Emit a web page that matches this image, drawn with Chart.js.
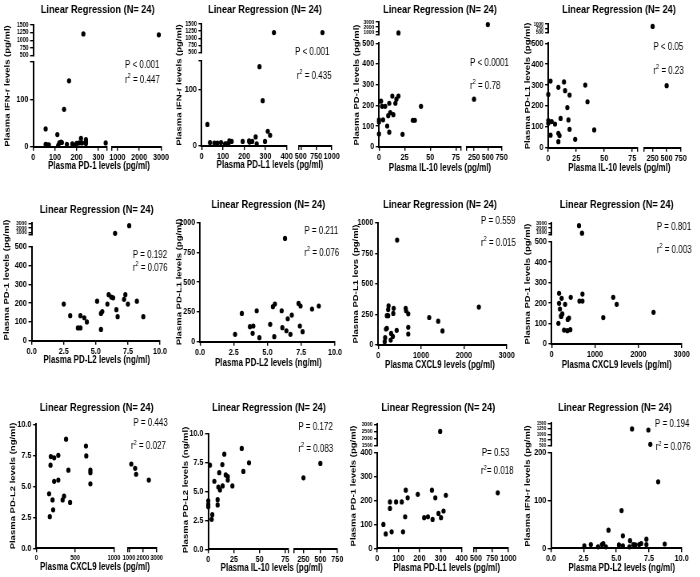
<!DOCTYPE html>
<html><head><meta charset="utf-8">
<script src="https://cdn.jsdelivr.net/npm/chart.js@4/dist/chart.umd.min.js"></script>
<style>
html,body{margin:0;padding:0;background:#fff;width:700px;height:577px;overflow:hidden;position:relative}
</style></head><body>
<script>
// ---------------- DATA ----------------
const p1x = [231, 2900, 165, 142, 57, 111, 57, 63, 72, 115, 120, 128, 132, 155, 190, 200, 212, 220, 225, 243, 243, 243, 334, 180];
const p1y = [1210, 1180, 141, 80, 38, 26, 5, 4, 4, 3, 8, 10, 9, 5, 3, 7, 8, 18, 8, 15, 10, 7, 8, 6];
const p2x = [340, 850, 272, 287, 27, 311, 322, 254, 298, 259, 39, 63, 74, 91, 110, 118, 130, 141, 193, 223, 238, 125, 225, 60];
const p2y = [1200, 1200, 140, 80, 38, 26, 19, 16, 8, 4, 6, 4, 5, 6, 4, 4, 9, 8, 8, 9, 8, 3, 7, 5];
const p3x = [19, 500, 250, 0, 0, 0, 2, 3, 4, 6, 8, 9, 10, 10, 11, 13, 14, 16, 17, 19, 23, 33, 35, 41];
const p3y = [850, 2500, 230, 62, 120, 130, 220, 195, 130, 195, 100, 150, 210, 70, 165, 245, 155, 210, 230, 245, 60, 128, 128, 195];
const p4x = [250, 500, 2, 0, 3, 0, 6, 9, 9, 10, 9, 11, 14, 15, 18, 17, 19, 19, 24, 33, 35, 41, 0, 2];
const p4y = [860, 297, 319, 255, 125, 117, 113, 289, 69, 58, 29, 140, 315, 273, 133, 192, 252, 88, 40, 300, 220, 85, 130, 60];
const p5x = [6.5, 7.6, 2.5, 3.0, 3.6, 3.8, 3.8, 4.1, 4.3, 5.1, 5.4, 5.4, 5.5, 5.9, 6.0, 6.2, 6.35, 6.6, 6.7, 7.2, 7.3, 7.5, 8.2, 8.7];
const p5y = [850, 2500, 195, 133, 68, 68, 133, 122, 100, 210, 145, 60, 155, 195, 245, 232, 228, 165, 128, 220, 245, 195, 210, 128];
const p6x = [6.3, 2.6, 3.1, 3.7, 3.95, 3.9, 4.2, 4.4, 5.2, 5.4, 5.55, 5.5, 6.05, 6.1, 6.4, 6.5, 6.8, 6.7, 7.3, 7.45, 7.4, 7.6, 8.3, 8.8];
const p6y = [868, 62, 238, 126, 132, 70, 260, 34, 146, 294, 316, 42, 260, 118, 92, 193, 224, 62, 322, 300, 132, 84, 275, 300];
const p7x = [440, 150, 160, 180, 200, 230, 230, 240, 290, 300, 340, 350, 360, 430, 640, 650, 700, 700, 700, 1190, 1400, 1500, 2350, 200];
const p7y = [858, 27, 60, 131, 136, 240, 290, 320, 40, 95, 70, 258, 300, 120, 300, 280, 255, 145, 90, 225, 195, 115, 310, 240];
const p8x = [630, 700, 170, 170, 155, 190, 230, 215, 245, 285, 310, 360, 370, 400, 440, 430, 640, 710, 710, 1190, 1420, 1500, 2350, 220];
const p8y = [2500, 900, 248, 199, 101, 171, 223, 137, 147, 68, 194, 65, 120, 127, 228, 70, 210, 210, 244, 129, 228, 194, 155, 135];
const p9x = [165, 174, 183, 187, 209, 217, 230, 230, 283, 283, 339, 357, 383, 413, 435, 639, 643, 696, 696, 696, 1160, 1440, 1510, 2430];
const p9y = [4.4, 2.55, 6.7, 7.4, 3.9, 3.1, 7.3, 5.4, 7.5, 5.5, 3.9, 4.2, 8.8, 6.3, 3.7, 8.25, 7.45, 6.3, 6.1, 5.2, 6.8, 6.45, 5.97, 5.5];
const p10x = [0, 0, 0, 1.6, 3.3, 3.9, 5.9, 9.1, 9.1, 9.8, 10.7, 11.4, 13.7, 14, 15.6, 17, 19, 19, 23.5, 32.6, 34.2, 39.7, 250, 500];
const p10y = [4.2, 3.9, 3.7, 7.3, 2.6, 3.0, 5.9, 4.3, 3.85, 5.4, 6.65, 5.15, 7.35, 5.5, 8.25, 6.45, 6.3, 6.0, 5.5, 8.75, 6.75, 7.5, 6.2, 7.45];
const p11x = [298, 837, 29, 40, 60, 60, 68, 89, 116, 122, 132, 135, 144, 192, 222, 240, 259, 262, 275, 290, 302, 314, 325];
const p11y = [2500, 232, 100, 60, 194, 167, 69, 194, 194, 69, 132, 243, 211, 226, 128, 132, 243, 121, 211, 146, 128, 156, 222];
const p12x = [6.2, 7.45, 7.6, 8.2, 5.4, 4.4, 5.5, 6.05, 7.3, 2.55, 3.05, 3.6, 3.9, 4.0, 4.2, 5.2, 5.5, 6.0, 6.3, 6.45, 6.75, 6.9, 7.3, 8.7];
const p12y = [1250, 1200, 560, 139, 79, 38, 26, 16, 19, 5, 8, 3, 8, 10, 3, 7, 5, 3, 8, 7, 8, 10, 8, 9];

// ---------------- TICK LABELS ----------------
const p1xA = ['0','100','200','300'], p1xB = ['1000','2000','3000'];
const p1yA = ['0','100'], p1yB = ['500','750','1000','1250','1500'];
const p2xA = ['0','100','200','300','400'], p2xB = ['500','750','1000'];
const p2yA = ['0','100'], p2yB = ['500','750','1000','1250','1500'];
const p3xA = ['0','25','50','75'], p3xB = ['250','500','750'];
const p3yA = ['0','100','200','300','400','500'], p3yB = ['1000','2000','3000'];
const p4xA = ['0','25','50','75'], p4xB = ['250','500','750'];
const p4yA = ['0','100','200','300','400','500'], p4yB = ['500','750','1000'];
const p5xA = ['0.0','2.5','5.0','7.5','10.0'];
const p5yA = ['0','100','200','300','400','500'], p5yB = ['1000','2000','3000'];
const p6xA = ['0.0','2.5','5.0','7.5','10.0'], p6yA = ['0','250','500','750','1000'];
const p7xA = ['0','1000','2000','3000'], p7yA = ['0','250','500','750','1000'];
const p8xA = ['0','1000','2000','3000'];
const p8yA = ['0','100','200','300','400','500'], p8yB = ['1000','2000','3000'];
const p9xA = ['0','500','1000'], p9xB = ['1000','2000','3000'];
const p9yA = ['0.0','2.5','5.0','7.5','10.0'];
const p10xA = ['0','25','50','75'], p10xB = ['250','500','750'];
const p10yA = ['0.0','2.5','5.0','7.5','10.0'];
const p11xA = ['0','100','200','300','400'], p11xB = ['500','750','1000'];
const p11yA = ['0','100','200','300','400'], p11yB = ['1500','2000','2500','3000'];
const p12xA = ['0.0','2.5','5.0','7.5','10.0'];
const p12yA = ['0','100','200'], p12yB = ['500','750','1000','1250','1500'];

// ---------------- LAYOUT (page pixels) ----------------
const FONT = '"Liberation Sans", Arial, Helvetica, sans-serif';
const SX = 0.8, YW = 28, XH = 16, PW = 183;
const TITLE = 'Linear Regression (N= 24)';
function seg(min, max, labels, a, b, fs) { return {min, max, labels, a, b, fs: fs || 9}; }

const panels = [
 {x0:0, y0:0, h:190, data:[p1x,p1y],
  xs:[seg(0,340,p1xA,33.3,107), seg(740,3000,p1xB,111.7,161)],
  ys:[seg(0,182,p1yA,146.7,61.7), seg(500,1500,p1yB,55.7,25,6.5)],
  tt:[97.7,10], xt:[99,166.7,'Plasma PD-1 levels (pg/ml)'], yt:[7.3,86,'Plasma IFN-r levels (pg/ml)'],
  st:['P < 0.001',' = 0.447',125,65.7,125,80]},
 {x0:175, y0:0, h:190, data:[p2x,p2y],
  xs:[seg(0,400,p2xA,201.7,286.7), seg(470,1000,p2xB,299,331.7)],
  ys:[seg(0,150,p2yA,146,61), seg(500,1500,p2yB,52.7,24,6.5)],
  tt:[265,10], xt:[270,165.7,'Plasma PD-L1 levels (pg/ml)'], yt:[179,85,'Plasma IFN-r levels (pg/ml)'],
  st:['P < 0.001',' = 0.435',295,52.3,296.7,76]},
 {x0:350, y0:0, h:190, data:[p3x,p3y],
  xs:[seg(0,80,p3xA,379,461), seg(117,750,p3xB,466.7,501.7)],
  ys:[seg(0,500,p3yA,146.7,43.3), seg(500,3000,p3yB,34.7,22,6)],
  tt:[440,10], xt:[440,168.3,'Plasma IL-10 levels (pg/ml)'], yt:[356.7,85,'Plasma PD-1 levels (pg/ml)'],
  st:['P < 0.0001',' = 0.78',470,63.3,470,86]},
 {x0:525, y0:0, h:190, data:[p4x,p4y],
  xs:[seg(0,80,p4xA,548.3,637.9), seg(101,750,p4xB,644.3,680.7)],
  ys:[seg(0,500,p4yA,147.7,43.3), seg(500,1000,p4yB,32.7,24,5.6)],
  tt:[619,10], xt:[619.3,168.3,'Plasma IL-10 levels (pg/ml)'], yt:[528,86,'Plasma PD-L1 levels (pg/ml)'],
  st:['P < 0.05',' = 0.23',653.3,47.7,653.3,71]},
 {x0:0, y0:190, h:195, data:[p5x,p5y],
  xs:[seg(0,10,p5xA,31.7,160)],
  ys:[seg(0,500,p5yA,340.7,246.7), seg(500,3000,p5yB,235,223.3,6)],
  tt:[96.7,210], xt:[96.7,360,'Plasma PD-L2 levels (ng/ml)'], yt:[6.7,280,'Plasma PD-1 levels (pg/ml)'],
  st:['P = 0.192',' = 0.076',132.7,255,132.7,268.3]},
 {x0:175, y0:190, h:195, data:[p6x,p6y],
  xs:[seg(0,10,p6xA,200,335)],
  ys:[seg(0,1000,p6yA,341.7,222.7)],
  tt:[268.3,205], xt:[268.3,363.3,'Plasma PD-L2 levels (ng/ml)'], yt:[179,282,'Plasma PD-L1 levels (pg/ml)'],
  st:['P = 0.211',' = 0.076',304.3,231.7,304.3,253.3]},
 {x0:350, y0:190, h:195, data:[p7x,p7y],
  xs:[seg(0,3000,p7xA,378.3,506.7)],
  ys:[seg(0,1000,p7yA,345,222.7)],
  tt:[440,205], xt:[440,365.7,'Plasma CXCL9 levels (pg/ml)'], yt:[356,284,'Plasma PD-L1 levs (pg/ml)'],
  st:['P = 0.559',' = 0.015',481,221.7,481,243.3]},
 {x0:525, y0:190, h:195, data:[p8x,p8y],
  xs:[seg(0,3000,p8xA,551.7,681.7)],
  ys:[seg(0,500,p8yA,344,241.7), seg(500,3000,p8yB,235,223.3,6)],
  tt:[616.7,205], xt:[616.7,365.7,'Plasma CXCL9 levels (pg/ml)'], yt:[528,284,'Plasma PD-1 levels (pg/ml)'],
  st:['P = 0.801',' = 0.003',656.7,227.7,656.7,250]},
 {x0:0, y0:385, h:192, data:[p9x,p9y],
  xs:[seg(0,1000,p9xA,36.3,114,7.2), seg(900,3000,p9xB,127.7,156.7,7.2)],
  ys:[seg(0,10,p9yA,548.3,424.3)],
  tt:[96.7,408.3], xt:[95,567.7,'Plasma CXCL9 levels (pg/ml)'], yt:[12.7,486,'Plasma PD-L2 levels (ng/ml)'],
  st:['P = 0.443',' = 0.027',133.3,423.3,131,446.7]},
 {x0:175, y0:385, h:192, data:[p10x,p10y],
  xs:[seg(0,78,p10xA,208.3,288.3), seg(110,750,p10xB,294,337.3)],
  ys:[seg(0,10,p10yA,549.3,434)],
  tt:[269,408.3], xt:[271.7,568.3,'Plasma IL-10 levels (pg/ml)'], yt:[185.7,490,'Plasma PD-L2 levels (ng/ml)'],
  st:['P = 0.172',' = 0.083',298.3,427.7,298.3,449]},
 {x0:350, y0:385, h:192, data:[p11x,p11y],
  xs:[seg(0,400,p11xA,377.3,461.7), seg(469,1000,p11xB,474,508.3)],
  ys:[seg(0,400,p11yA,548.3,452.7), seg(1500,3000,p11yB,445.7,424.3,6)],
  tt:[438.3,408.3], xt:[446.7,568.3,'Plasma PD-L1 levels (pg/ml)'], yt:[353.3,486,'Plasma PD-1 levels (pg/ml)'],
  st:['P= 0.53','= 0.018',481.7,453.3,481,471.7]},
 {x0:525, y0:385, h:192, data:[p12x,p12y],
  xs:[seg(0,10,p12xA,551,681.7)],
  ys:[seg(0,200,p12yA,548.3,452.7), seg(500,1500,p12yB,445.7,423.3,5.3)],
  tt:[615,408.3], xt:[621.7,568.3,'Plasma PD-L2 levels (ng/ml)'], yt:[528,486,'Plasma IFN-r levels (pg/ml)'],
  st:['P = 0.194',' = 0.076',655,424.3,655.7,447.7]}
];

Chart.defaults.font.family = FONT;
Chart.defaults.color = '#000';

function axisOpts(s, axis, w, len) {
  const vals = s.labels.map(Number);
  const tv = vals.slice();
  if (!tv.includes(s.min)) tv.unshift(s.min);
  if (!tv.includes(s.max)) tv.push(s.max);
  const lab = new Map(s.labels.map(l => [Number(l), l]));
  return {
    type: 'linear', axis, position: axis === 'x' ? 'bottom' : 'left',
    stack: 's' + axis, stackWeight: Math.max(len, 0.5), weight: w,
    min: s.min, max: s.max, bounds: 'data',
    afterBuildTicks: sc => { sc.ticks = tv.map(v => ({value: v})); },
    afterFit: sc => { if (axis === 'x') sc.height = XH; else sc.width = YW; },
    ticks: { autoSkip: false, maxRotation: 0, minRotation: 0, padding: axis === 'x' ? 1 : 2, color: '#000',
      font: {family: FONT, size: s.fs, weight: 'bold'},
      callback: v => lab.has(v) ? lab.get(v) : '' },
    grid: { display: true, drawOnChartArea: false, drawTicks: true, tickLength: 4, color: '#000', lineWidth: 1.4 },
    border: { display: true, color: '#000', width: 2 }
  };
}
function gapOpts(axis, w, len) {
  return { type: 'linear', axis, position: axis === 'x' ? 'bottom' : 'left', display: false,
    stack: 's' + axis, stackWeight: Math.max(len, 0.5), weight: w, min: 0, max: 1 };
}
function segIndex(segs, v) {
  for (let k = 0; k < segs.length; k++) if (v <= segs[k].max) return k;
  return segs.length - 1;
}

panels.forEach((P, i) => {
  const left = P.x0 - 8;
  const cw = PW / SX, ch = P.h;
  const div = document.createElement('div');
  div.style.cssText = `position:absolute;left:${left}px;top:${P.y0}px;width:${cw}px;height:${ch}px;transform:scaleX(${SX});transform-origin:0 0;`;
  const cv = document.createElement('canvas');
  cv.width = Math.round(cw); cv.height = ch;
  cv.style.width = Math.round(cw) + 'px'; cv.style.height = ch + 'px';
  div.appendChild(cv); document.body.appendChild(div);
  const cx = px => (px - left) / SX, cy = py => py - P.y0;

  const scales = {};
  P.xs.forEach((s, k) => {
    scales['x' + k] = axisOpts(s, 'x', k * 2, cx(s.b) - cx(s.a));
    if (k < P.xs.length - 1) scales['gx' + k] = gapOpts('x', k * 2 + 1, cx(P.xs[k + 1].a) - cx(s.b));
  });
  P.ys.forEach((s, k) => {
    scales['y' + k] = axisOpts(s, 'y', k * 2, cy(s.a) - cy(s.b));
    if (k < P.ys.length - 1) scales['gy' + k] = gapOpts('y', k * 2 + 1, cy(s.b) - cy(P.ys[k + 1].a));
  });

  const groups = {};
  const [xs, ys] = P.data;
  xs.forEach((xv, j) => {
    const ix = segIndex(P.xs, xv), iy = segIndex(P.ys, ys[j]);
    const key = ix + '_' + iy;
    (groups[key] = groups[key] || {xAxisID: 'x' + ix, yAxisID: 'y' + iy, data: []}).data.push({x: xv, y: ys[j]});
  });
  const datasets = Object.values(groups).map(g => ({
    ...g, backgroundColor: '#000', borderColor: '#000', borderWidth: 0,
    pointRadius: 2.6, pointHoverRadius: 2.6, pointStyle: 'circle', clip: false
  }));

  const aL = cx(P.xs[0].a), aR = cx(P.xs[P.xs.length - 1].b);
  const aT = cy(P.ys[P.ys.length - 1].b), aB = cy(P.ys[0].a);

  const textPlugin = {
    id: 'txt' + i,
    afterDraw(chart) {
      const ctx = chart.ctx;
      ctx.save();
      ctx.fillStyle = '#000';
      ctx.textAlign = 'center'; ctx.textBaseline = 'middle';
      ctx.font = `bold 11.5px ${FONT}`;
      ctx.fillText(TITLE, cx(P.tt[0]), cy(P.tt[1]));
      ctx.font = `bold 10px ${FONT}`;
      ctx.fillText(P.xt[2], cx(P.xt[0]), cy(P.xt[1]));
      ctx.save();
      ctx.translate(cx(P.yt[0]), cy(P.yt[1]));
      ctx.rotate(-Math.PI / 2);
      ctx.font = `bold 9.5px ${FONT}`;
      ctx.fillText(P.yt[2], 0, 0);
      ctx.restore();
      ctx.textAlign = 'left';
      ctx.font = `10px ${FONT}`;
      ctx.fillText(P.st[0], cx(P.st[2]), cy(P.st[3]));
      let x = cx(P.st[4]); const y = cy(P.st[5]);
      ctx.fillText('r', x, y); x += ctx.measureText('r').width;
      ctx.font = `7px ${FONT}`;
      ctx.fillText('2', x, y - 4); x += ctx.measureText('2').width;
      ctx.font = `10px ${FONT}`;
      ctx.fillText(P.st[1], x, y);
      ctx.restore();
    }
  };

  new Chart(cv, {
    type: 'scatter',
    data: { datasets },
    options: {
      responsive: false, animation: false, devicePixelRatio: 1,
      layout: { autoPadding: false, padding: { left: aL - YW, right: cv.width - aR, top: aT, bottom: ch - aB - XH } },
      plugins: { legend: { display: false }, tooltip: { enabled: false }, title: { display: false } },
      scales
    },
    plugins: [textPlugin]
  });
});
</script>
</body></html>
